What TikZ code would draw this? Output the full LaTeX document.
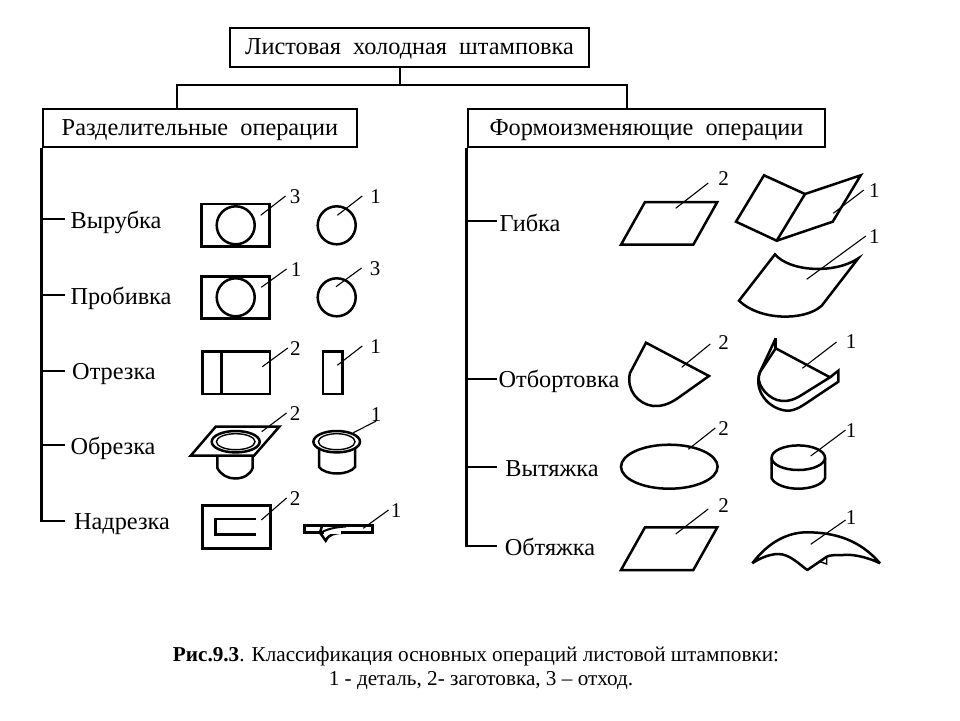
\documentclass[tikz,border=0pt]{standalone}
\usepackage{fontspec}
\setmainfont{Liberation Serif}
\usepackage{tikz}

\tikzset{
  box/.style={draw, line width=2.8pt, inner sep=0pt, text depth=1pt, font=\fontsize{24.3}{28}\selectfont},
  oper/.style={inner sep=0pt, font=\fontsize{24.3}{28}\selectfont},
  num/.style={inner sep=0pt, font=\fontsize{21}{24}\selectfont},
  capt/.style={inner sep=0pt, font=\fontsize{21.2}{24}\selectfont},
  tree/.style={line width=2.8pt},
  part/.style={line width=2.5pt, line join=miter},
  thinpart/.style={line width=1.4pt},
  leader/.style={line width=1.1pt}
}

\begin{document}
\begin{tikzpicture}[x=1pt,y=-1pt]
  \useasboundingbox (0,0) rectangle (960,720);

  % Headers
  \node[box, minimum width=359pt, minimum height=39pt] (top) at (409.5,47.5) {Листовая\ \ холодная\ \ штамповка};
  \node[box, minimum width=314pt, minimum height=38pt] (sep) at (200,128) {Разделительные\ \ операции};
  \node[box, minimum width=357pt, minimum height=38pt] (form) at (646.5,128) {Формоизменяющие\ \ операции};

  \coordinate (split) at (400,85);
  \coordinate (splitl) at (177,85);
  \coordinate (splitr) at (627,85);
  \draw[tree] (top.south -| split) -- (split);
  \draw[tree, line cap=rect] (splitl |- sep.north) -- (splitl) -- (splitr) -- (splitr |- form.north);

  % Left column labels
  \node[oper] (vyr) at (116,222) {Вырубка};
  \node[oper] (pro) at (121,298) {Пробивка};
  \node[oper] (otr) at (114,374) {Отрезка};
  \node[oper] (obr) at (113,448) {Обрезка};
  \node[oper] (nad) at (122,524) {Надрезка};

  \coordinate (vyrt) at (65,219);
  \coordinate (prot) at (65,295);
  \coordinate (otrt) at (65,371);
  \coordinate (obrt) at (65,445);
  \coordinate (nadt) at (65,521);
  \draw[tree] (sep.south west) -- (sep.south west |- nadt) -- (nadt);
  \draw[tree] (sep.south west |- vyrt) -- (vyrt);
  \draw[tree] (sep.south west |- prot) -- (prot);
  \draw[tree] (sep.south west |- otrt) -- (otrt);
  \draw[tree] (sep.south west |- obrt) -- (obrt);

  % Right column labels
  \node[oper] (gib) at (530,223) {Гибка};
  \node[oper] (otb) at (559,381) {Отбортовка};
  \node[oper] (vyt) at (552,469) {Вытяжка};
  \node[oper] (obt) at (550,547) {Обтяжка};

  \coordinate (gibt) at (497,221);
  \coordinate (otbt) at (497,379);
  \coordinate (vytt) at (497,467);
  \coordinate (obtt) at (497,546);
  \draw[tree] (form.south west) -- (form.south west |- obtt) -- (obtt);
  \draw[tree] (form.south west |- gibt) -- (gibt);
  \draw[tree] (form.south west |- otbt) -- (otbt);
  \draw[tree] (form.south west |- vytt) -- (vytt);

  % Numbers
  \node[num] (n1) at (295,197) {3};
  \node[num] (n2) at (375.7,197) {1};
  \node[num] (n3) at (296,270) {1};
  \node[num] (n4) at (375,269) {3};
  \node[num] (n5) at (295.3,349) {2};
  \node[num] (n6) at (375.7,347) {1};
  \node[num] (n7) at (295,414) {2};
  \node[num] (n8) at (376,415) {1};
  \node[num] (n9) at (295,499) {2};
  \node[num] (n10) at (396,511) {1};
  \node[num] (n11) at (723.7,179) {2};
  \node[num] (n12) at (874.3,191) {1};
  \node[num] (n13) at (874.3,237) {1};
  \node[num] (n14) at (723.7,343) {2};
  \node[num] (n15) at (851,342) {1};
  \node[num] (n16) at (723.7,429) {2};
  \node[num] (n17) at (851,431) {1};
  \node[num] (n18) at (723.7,506) {2};
  \node[num] (n19) at (851,518) {1};

  % Leaders
  \draw[leader] (260.7,215.3) coordinate (f1) -- ([xshift=-4pt,yshift=1pt]n1.west);
  \draw[leader] (337.3,215.3) coordinate (f2) -- ([xshift=-8pt,yshift=1pt]n2.west);
  \draw[leader] (261.3,287.3) coordinate (f3) -- ([xshift=-4pt,yshift=1pt]n3.west);
  \draw[leader] (336,286.7) coordinate (f4) -- ([xshift=-8pt,yshift=1pt]n4.west);
  \draw[leader] (262.3,366.7) coordinate (f5) -- ([xshift=-2pt,yshift=1pt]n5.west);
  \draw[leader] (337.3,365.3) coordinate (f6) -- ([xshift=-8pt,yshift=1pt]n6.west);
  \draw[leader] (261.7,431.7) coordinate (f7) -- ([xshift=-3pt,yshift=1pt]n7.west);
  \draw[leader] (353.3,432.7) coordinate (f8) -- ([yshift=1pt]n8.south);
  \draw[leader] (261.3,520) coordinate (f9) -- ([xshift=-3pt,yshift=1pt]n9.west);
  \draw[leader] (363.3,528.3) coordinate (f10) -- ([xshift=-2pt,yshift=1pt]n10.west);
  \draw[leader] (675.7,208.3) coordinate (f11) -- ([xshift=-10pt,yshift=-4pt]n11.west);
  \draw[leader] (833.3,213.3) coordinate (f12) -- ([xshift=-5pt,yshift=1pt]n12.west);
  \draw[leader] (806.7,279.3) coordinate (f13) -- ([xshift=-3pt,yshift=1pt]n13.west);
  \draw[leader] (681.7,367.3) coordinate (f14) -- ([xshift=-8pt,yshift=-1pt]n14.west);
  \draw[leader] (802.3,368.3) coordinate (f15) -- ([xshift=-9pt]n15.west);
  \draw[leader] (688.3,449.3) coordinate (f16) -- ([xshift=-3pt,yshift=1pt]n16.west);
  \draw[leader] (810.7,456) coordinate (f17) -- ([yshift=1pt]n17.west);
  \draw[leader] (675.7,534) coordinate (f18) -- ([xshift=-10pt,yshift=-3pt]n18.west);
  \draw[leader] (810.7,544.3) coordinate (f19) -- ([yshift=-2pt]n19.west);

  % Vyrubka and probivka
  \draw[part] (201.7,204) rectangle (269.3,246.7);
  \draw[part] (235.7,225.3) circle (19);
  \draw[part] (336.7,225.3) circle (19);
  \draw[part] (201.7,276.3) rectangle (269.3,318.7);
  \draw[part] (235.7,297.3) circle (19);
  \draw[part] (336.7,297.3) circle (19);

  % Otrezka
  \draw[part] (202.3,351.3) rectangle (270,394);
  \draw[part] (221.3,351.3) -- (221.3,394);
  \draw[part] (323,351.3) rectangle (342.3,394);

  % Obrezka
  \draw[part] (215.7,426.7) -- (279.3,426.7) -- (254,455.7) -- (190.7,455.7) -- cycle;
  \draw[part] (235.7,441.7) ellipse (24 and 10.7);
  \draw[thinpart] (235.7,441.7) ellipse (19.3 and 8);
  \draw[part] (217.3,455.7) -- (217.3,468) .. controls (221,475) and (228,478.5) .. (235,478.5)
    .. controls (243,478.5) and (250,475) .. (252.7,468) -- (252.7,455.7);
  \draw[part] (336.7,441.7) ellipse (23.3 and 10.7);
  \draw[thinpart] (336.7,441.7) ellipse (18.3 and 8);
  \draw[part] (319,447.5) -- (319,467) .. controls (322,471) and (329,473.5) .. (337,473.5)
    .. controls (345,473.5) and (352,471) .. (355,467) -- (355,447.5);

  % Nadrezka
  \draw[part] (202.3,505.7) rectangle (270.3,548.3);
  \draw[part] (256,519) -- (215.7,519) -- (215.7,534.7) -- (256,534.7);
  \draw[part] (304.3,525.3) rectangle (372.7,532.7);
  \draw[part] (322,526) -- (320,532.7) -- (325.7,540.7) .. controls (329,534) and (335,533) .. (343,532.7);
  \draw[draw=white, line width=3pt] (323.5,532.7) -- (341,532.7);
  \draw[line width=2pt] (322,532) .. controls (330,528) and (338,527) .. (346,526.5);

  % Gibka
  \draw[part] (645,202) -- (717.3,202) -- (693.3,244.7) -- (621,244.7) -- cycle;
  \draw[part] (764,175.3) -- (805,194) -- (776.7,240.7) -- (736,221.7) -- cycle;
  \draw[part] (805,194) -- (860.7,175.3) -- (832.7,221.7) -- (776.7,240.7);
  \draw[part] (775,254.3) .. controls (790,272) and (835,274) .. (858.3,258.3) -- (821.7,305.7)
    .. controls (805,321) and (760,321) .. (739,300.7) -- cycle;

  % Otbortovka
  \draw[part] (646,342.7) -- (709,376) -- (678,398) .. controls (668,405) and (660,406.5) .. (653,406)
    .. controls (638,404) and (626,390) .. (630,373) -- cycle;
  \draw[part] (775.7,348.3) -- (830,377.3) -- (800,396) .. controls (790,402) and (783,401.5) .. (777,400)
    .. controls (765,396) and (755,382) .. (760,372) -- cycle;
  \draw[part] (775.7,338.3) -- (775.7,348.3);
  \draw[part] (775.7,338.3) -- (760,372) .. controls (753,390) and (768,409) .. (786.7,410.7)
    .. controls (795,411) and (802,406) .. (808,402) -- (838.3,381.7) -- (838.3,370.7) -- (830,377.3);

  % Vytyazhka
  \draw[part] (669.3,466.7) ellipse (48.3 and 22);
  \draw[part] (798.3,457.7) ellipse (26.7 and 12.3);
  \draw[part] (771.6,457.7) -- (771.6,478.3) .. controls (775,485) and (787,488.7) .. (798.3,488.7)
    .. controls (810,488.7) and (822,485) .. (825,478.3) -- (825,457.7);

  % Obtyazhka
  \draw[part] (645,527.3) -- (717.3,527.3) -- (693.3,570) -- (621,570) -- cycle;
  \draw[part, line join=bevel] (752.3,563.3) .. controls (770,540) and (790,532.3) .. (806.7,532.3)
    .. controls (835,532.3) and (860,540) .. (880,563.3)
    .. controls (865,556) and (850,554) .. (843.3,555)
    .. controls (835,555) and (830,555) .. (826.7,556.7) -- (807.3,570)
    .. controls (800,565) and (790,554) .. (778.3,554)
    .. controls (770,554) and (760,558) .. (752.3,563.3);
  \draw[thinpart] (820,561.7) -- (826.7,564) -- (826.7,556.7);

  % Caption
  \node[capt] (cap1) at (476,656) {\textbf{Рис.9.3}. Классификация основных операций листовой штамповки:};
  \node[capt] (cap2) at (481,681) {1 - деталь, 2- заготовка, 3 – отход.};
\end{tikzpicture}
\end{document}
